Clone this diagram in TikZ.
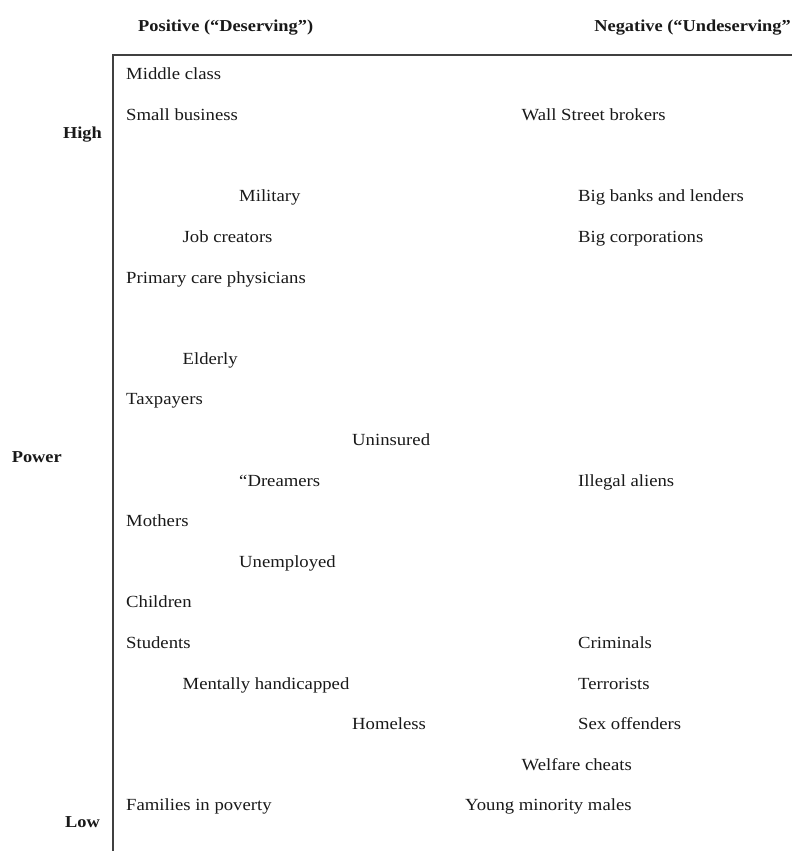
\documentclass[tikz,border=0pt]{standalone}
\usepackage{fontspec}
\setmainfont{Liberation Serif}[FakeStretch=1.1]
\usepackage{tikz}
\usetikzlibrary{positioning}
\definecolor{mainBlack}{gray}{0.1}
\definecolor{axisGray}{gray}{0.25}

\begin{document}
\begin{tikzpicture}[x=1pt, y=-1pt,
    group/.style={anchor=base west, inner sep=0pt, text=mainBlack, font=\fontsize{17}{20}\selectfont},
    heading/.style={group, font=\fontsize{16.7}{20}\selectfont\bfseries}]
    \useasboundingbox (0,0) rectangle (792,851);

    % Axes
    \draw[line width=1.6pt, axisGray] (792,55) -- (113,55) -- (113,851);

    % Column headings
    \node[heading] (positive) at (138,32) {Positive (“Deserving”)};
    \node[heading, anchor=base east] (negative) at (791,32) {Negative (“Undeserving”};

    % Power labels
    \node[heading, anchor=base east] (high) at (102,138) {High};
    \node[heading, anchor=base east] (power) at (62,462) {Power};
    \node[heading, anchor=base east] (low) at (100,827) {Low};

    % Deserving groups
    \node[group] (middle) at (126,80) {Middle class};
    \node[group] (smallbiz) at (126,120.6) {Small business};
    \node[group] (military) at (239,201.8) {Military};
    \node[group] (jobs) at (182.5,242.4) {Job creators};
    \node[group] (physicians) at (126,283) {Primary care physicians};
    \node[group] (elderly) at (182.5,364.2) {Elderly};
    \node[group] (taxpayers) at (126,404.8) {Taxpayers};
    \node[group] (uninsured) at (352,445.4) {Uninsured};
    \node[group] (dreamers) at (239,486) {“Dreamers};
    \node[group] (mothers) at (126,526.6) {Mothers};
    \node[group] (unemployed) at (239,567.2) {Unemployed};
    \node[group] (children) at (126,607.8) {Children};
    \node[group] (students) at (126,648.4) {Students};
    \node[group] (handicapped) at (182.5,689) {Mentally handicapped};
    \node[group] (homeless) at (352,729.6) {Homeless};
    \node[group] (poverty) at (126,810.8) {Families in poverty};

    % Undeserving groups
    \node[group] (brokers) at (521.5,120.6) {Wall Street brokers};
    \node[group] (banks) at (578,201.8) {Big banks and lenders};
    \node[group] (corps) at (578,242.4) {Big corporations};
    \node[group] (aliens) at (578,486) {Illegal aliens};
    \node[group] (criminals) at (578,648.4) {Criminals};
    \node[group] (terrorists) at (578,689) {Terrorists};
    \node[group] (offenders) at (578,729.6) {Sex offenders};
    \node[group] (cheats) at (521.5,770.2) {Welfare cheats};
    \node[group] (males) at (465,810.8) {Young minority males};
\end{tikzpicture}
\end{document}
